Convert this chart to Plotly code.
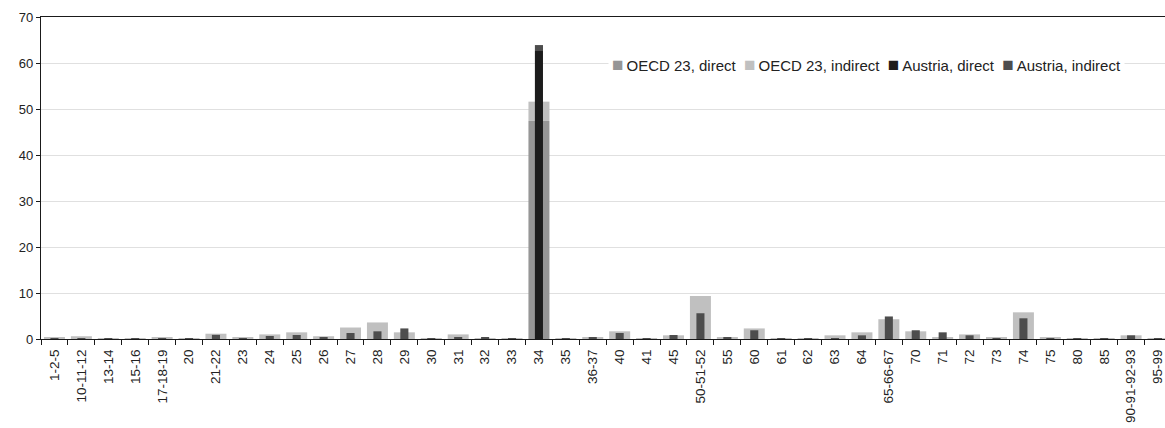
import plotly.graph_objects as go

categories = ["1-2-5", "10-11-12", "13-14", "15-16", "17-18-19", "20", "21-22", "23", "24", "25",
              "26", "27", "28", "29", "30", "31", "32", "33", "34", "35", "36-37", "40", "41", "45",
              "50-51-52", "55", "60", "61", "62", "63", "64", "65-66-67", "70", "71", "72", "73", "74",
              "75", "80", "85", "90-91-92-93", "95-99"]

oecd_direct = [0, 0, 0, 0, 0, 0, 0, 0, 0, 0,
               0, 0, 0, 0, 0, 0, 0, 0, 47.4, 0, 0, 0, 0, 0,
               0, 0, 0, 0, 0, 0, 0, 0, 0, 0, 0, 0, 0,
               0, 0, 0, 0, 0]
oecd_indirect = [0.35, 0.6, 0.05, 0.1, 0.35, 0.1, 1.15, 0.35, 1.0, 1.45,
                 0.6, 2.5, 3.6, 1.45, 0.05, 1.0, 0.1, 0.1, 4.2, 0.05, 0.35, 1.67, 0.1, 0.8,
                 9.35, 0.35, 2.3, 0.05, 0.05, 0.8, 1.45, 4.3, 1.67, 0.35, 1.0, 0.35, 5.8,
                 0.35, 0.15, 0.05, 0.8, 0.05]
austria_direct = [0, 0, 0, 0, 0, 0, 0, 0, 0, 0,
                  0, 0, 0, 0, 0, 0, 0, 0, 62.6, 0, 0, 0, 0, 0,
                  0, 0, 0, 0, 0, 0, 0, 0, 0, 0, 0, 0, 0,
                  0, 0, 0, 0, 0]
austria_indirect = [0.2, 0.15, 0.05, 0.1, 0.2, 0.1, 0.9, 0.15, 0.65, 0.87,
                    0.35, 1.3, 1.67, 2.3, 0.05, 0.35, 0.35, 0.15, 1.3, 0.05, 0.35, 1.3, 0.15, 0.87,
                    5.6, 0.4, 1.9, 0.05, 0.1, 0.15, 0.8, 4.9, 1.9, 1.45, 0.8, 0.1, 4.5,
                    0.15, 0.15, 0.05, 0.8, 0.05]

series_names = ["OECD 23, direct", "OECD 23, indirect", "Austria, direct", "Austria, indirect"]
series_colors = ["#969696", "#c0c0c0", "#1c1c1c", "#4d4d4d"]

font_family = "Liberation Sans, Arial, sans-serif"

fig = go.Figure()
fig.add_trace(go.Bar(x=categories, y=oecd_direct, base=0, width=0.78,
                     name=series_names[0], marker=dict(color=series_colors[0], line=dict(width=0))))
fig.add_trace(go.Bar(x=categories, y=oecd_indirect, base=oecd_direct, width=0.78,
                     name=series_names[1], marker=dict(color=series_colors[1], line=dict(width=0))))
fig.add_trace(go.Bar(x=categories, y=austria_direct, base=0, width=0.3,
                     name=series_names[2], marker=dict(color=series_colors[2], line=dict(width=0))))
fig.add_trace(go.Bar(x=categories, y=austria_indirect, base=austria_direct, width=0.3,
                     name=series_names[3], marker=dict(color=series_colors[3], line=dict(width=0))))

# compact legend drawn as a single text line with coloured square glyphs
legend_parts = []
for name, col in zip(series_names, series_colors):
    legend_parts.append(
        f"<span style='color:{col};font-size:19px'>\u25A0</span>\u2009{name}")
legend_text = "\u00a0\u00a0".join(legend_parts)

fig.add_annotation(
    text=legend_text, xref="paper", yref="paper", x=0.734, y=0.851,
    xanchor="center", yanchor="middle", showarrow=False,
    bgcolor="white", borderpad=3,
    font=dict(size=15, family=font_family, color="#222222"),
)

fig.update_layout(
    width=1165, height=428,
    barmode="overlay",
    plot_bgcolor="white", paper_bgcolor="white",
    margin=dict(l=41, r=0, t=17, b=89, autoexpand=False),
    font=dict(family=font_family, color="#222222"),
    showlegend=False,
)
fig.update_xaxes(
    type="category", range=[-0.5, 41.26],
    showline=True, linecolor="#1a1a1a", linewidth=1.3, mirror=True,
    ticks="outside", tickson="boundaries", ticklen=5, tickcolor="#1a1a1a",
    tickangle=-90, tickfont=dict(size=13.5, family=font_family, color="#222222"),
    ticklabelstandoff=4,
    showgrid=False, automargin=False,
)
fig.update_yaxes(
    range=[0, 70], dtick=10,
    showline=True, linecolor="#1a1a1a", linewidth=1.3,
    ticks="outside", ticklen=4, tickcolor="#1a1a1a",
    tickfont=dict(size=13, family=font_family, color="#222222"),
    showgrid=True, gridcolor="#e0e0e0", gridwidth=1, zeroline=False, automargin=False,
)

fig.write_html("out.html", config={"displayModeBar": False},
               post_script="document.body.style.margin='0';")
